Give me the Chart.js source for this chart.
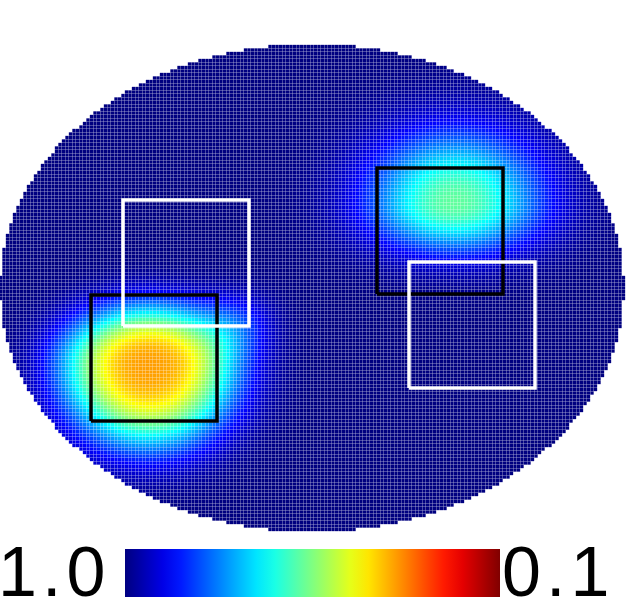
<!DOCTYPE html>
<html>
<head>
<meta charset="utf-8">
<script src="https://cdn.jsdelivr.net/npm/chart.js@4.4.1/dist/chart.umd.min.js"></script>
<style>
html,body{margin:0;padding:0;background:#fff;}
#wrap{position:relative;width:626px;height:604px;overflow:hidden;background:#fff;}
#c{position:absolute;left:0;top:0;}
#bar{position:absolute;left:125px;top:549px;width:375px;height:48px;}
.lbl{position:absolute;top:537px;font-family:"Liberation Sans",Arial,Helvetica,sans-serif;font-size:70px;line-height:70px;color:#000;white-space:nowrap;letter-spacing:5px;}
</style>
</head>
<body>
<div id="wrap">
  <canvas id="c" width="626" height="540"></canvas>
  <div id="bar"></div>
  <div class="lbl" id="lblLeft" style="left:-2px;"></div>
  <div class="lbl" id="lblRight" style="left:502px;"></div>
</div>
<script>
// ---- domain (mesh) ----
const ellipseCenter = [0, 0];
const ellipseRadii = [312, 244];
const cellSpacing = 3.5;

// ---- field values (1.0 = background, 0.1 = minimum) ----
const backgroundValue = 1.0;
const blobX      = [-163, 143, -74];
const blobY      = [-77,   85, -34];
const blobDepth  = [0.648, 0.423, 0.11];
const blobSx     = [88, 88, 35];
const blobSyUp   = [60, 72, 30];
const blobSyDown = [82, 50, 30];
const blobShape  = [2.8, 2.2, 2];

// ---- overlay squares ----
const squareLeft   = [-221, 65, -189, 97];
const squareBottom = [-133, -6, -38, -100];
const squareSize   = [126, 126, 126, 126];
const squareColor  = ['#000000', '#000000', '#ffffff', '#ffffff'];

// ---- colour bar ----
const colorbarLabels = ['1.0', '0.1'];
const colorbarMax = 1.0, colorbarMin = 0.1;

function clamp(v){ return Math.max(0, Math.min(1, v)); }
function jet(t){
  const r = clamp(1.5 - Math.abs(4*t - 3));
  const g = clamp(1.5 - Math.abs(4*t - 2));
  const b = clamp(1.5 - Math.abs(4*t - 1));
  return 'rgb(' + Math.round(r*255) + ',' + Math.round(g*255) + ',' + Math.round(b*255) + ')';
}

function fieldAt(x, y){
  let v = backgroundValue;
  for (let i = 0; i < blobX.length; i++){
    const dx = (x - blobX[i]) / blobSx[i];
    const dyRaw = y - blobY[i];
    const dy = dyRaw / (dyRaw > 0 ? blobSyUp[i] : blobSyDown[i]);
    const r = Math.sqrt(dx*dx + dy*dy);
    v -= blobDepth[i] * Math.exp(-Math.pow(r, blobShape[i]));
  }
  return v;
}

const cells = [], cellColors = [];
const nx = Math.floor(ellipseRadii[0] / cellSpacing);
const ny = Math.floor(ellipseRadii[1] / cellSpacing);
for (let j = -ny; j <= ny; j++){
  for (let i = -nx; i <= nx; i++){
    const x = ellipseCenter[0] + i*cellSpacing;
    const y = ellipseCenter[1] + j*cellSpacing;
    const q = Math.pow(x/ellipseRadii[0], 2) + Math.pow(y/ellipseRadii[1], 2);
    if (q > 1) continue;
    const v = fieldAt(x, y);
    cells.push({x: x, y: y});
    cellColors.push(jet((colorbarMax - v) / (colorbarMax - colorbarMin)));
  }
}

const datasets = [{
  type: 'scatter',
  data: cells,
  pointStyle: 'rect',
  pointRadius: 2.35,
  pointBorderWidth: 0,
  pointBackgroundColor: cellColors,
  order: 10
}];
for (let k = 0; k < squareLeft.length; k++){
  const l = squareLeft[k], b = squareBottom[k], s = squareSize[k];
  datasets.push({
    type: 'line',
    data: [{x:l,y:b},{x:l+s,y:b},{x:l+s,y:b+s},{x:l,y:b+s},{x:l,y:b}],
    borderColor: squareColor[k],
    borderWidth: 3.5,
    borderJoinStyle: 'miter',
    pointRadius: 0,
    fill: false,
    tension: 0,
    order: squareColor[k] === '#ffffff' ? 1 : 2
  });
}

new Chart(document.getElementById('c'), {
  data: { datasets: datasets },
  options: {
    responsive: false,
    animation: false,
    events: [],
    layout: { padding: 0, autoPadding: false },
    plugins: { legend: {display:false}, tooltip: {enabled:false} },
    scales: {
      x: { type: 'linear', min: -312, max: 314, display: false },
      y: { type: 'linear', min: -252, max: 288, display: false }
    }
  }
});

// colour bar
const stops = [];
for (let k = 0; k <= 20; k++){ stops.push(jet(k/20) + ' ' + (k*5) + '%'); }
document.getElementById('bar').style.background = 'linear-gradient(to right,' + stops.join(',') + ')';
document.getElementById('lblLeft').textContent = colorbarLabels[0];
document.getElementById('lblRight').textContent = colorbarLabels[1];
</script>
</body>
</html>
